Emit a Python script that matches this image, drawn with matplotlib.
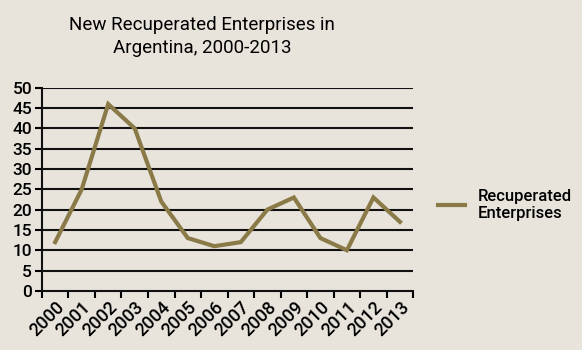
import matplotlib.pyplot as plt
import numpy as np

years = ['2000', '2001', '2002', '2003', '2004', '2005', '2006',
         '2007', '2008', '2009', '2010', '2011', '2012', '2013']
enterprises = [12, 25, 46, 40, 22, 13, 11, 12, 20, 23, 13, 10, 23, 17]

bg = '#e8e4dc'
line_col = '#8a7a48'

plt.rcParams['font.family'] = ['Roboto', 'DejaVu Sans']
plt.rcParams['font.weight'] = 'medium'

fig = plt.figure(figsize=(5.82, 3.5), dpi=100, facecolor=bg)
ax = fig.add_axes([0.072, 0.169, 0.638, 0.58])
ax.set_facecolor(bg)

x = np.arange(len(years))
ax.plot(x, enterprises, color=line_col, linewidth=3, label='Recuperated\nEnterprises',
        solid_joinstyle='miter', zorder=3)

ax.set_xlim(-0.5, len(years) - 0.5)
ax.set_ylim(0, 50)
ax.set_yticks(range(0, 51, 5))
for v in range(5, 51, 5):
    ax.axhline(v, color='#111111', linewidth=1.5, zorder=1)

ax.set_xticks(np.arange(-0.5, len(years), 1))
ax.set_xticklabels([])
ax.set_xticks(x, minor=True)
ax.set_xticklabels(years, minor=True, rotation=45, ha='right', va='top',
                   rotation_mode='anchor', fontsize=13)
ax.tick_params(axis='x', which='minor', length=0, pad=5)
ax.tick_params(axis='x', which='major', length=5, width=1.5, direction='out')
ax.tick_params(axis='y', length=5, width=1.5, direction='out', labelsize=12.5, pad=2)

for s in ['top', 'right']:
    ax.spines[s].set_visible(False)
for s in ['left', 'bottom']:
    ax.spines[s].set_linewidth(1.5)
    ax.spines[s].set_color('#111111')

fig.text(0.347, 0.895, 'New Recuperated Enterprises in\nArgentina, 2000-2013',
         ha='center', va='center', fontsize=13.5, fontweight='normal', linespacing=1.35)

leg = fig.legend(loc='center left', bbox_to_anchor=(0.727, 0.415), frameon=False,
                 fontsize=12, handlelength=1.6, handletextpad=0.8)

fig.savefig('out.png', dpi=100, facecolor=bg)
